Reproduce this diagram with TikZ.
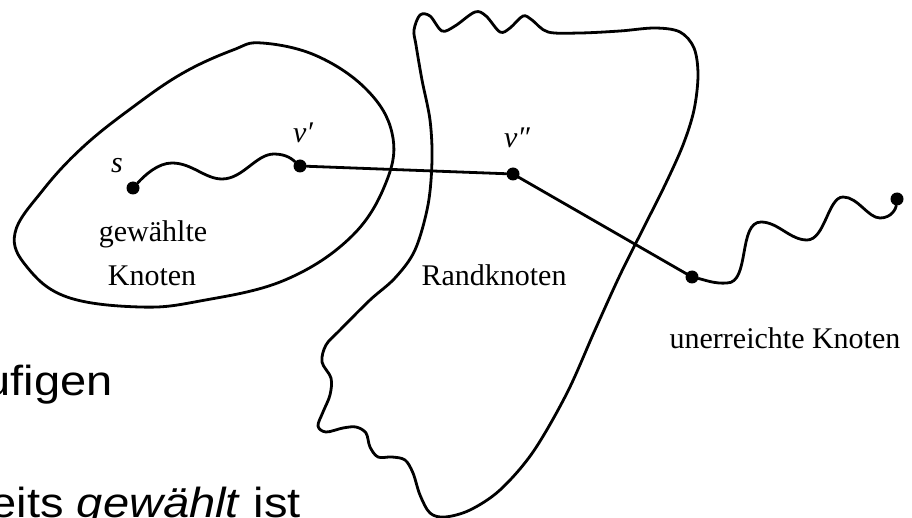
\documentclass[tikz,border=0pt]{standalone}
\usepackage{fontspec}
\usepackage{graphicx}
\setmainfont{Liberation Serif}
\newfontfamily\slidefont{Liberation Sans}
\begin{document}
\begin{tikzpicture}[x=1pt,y=-1pt,
  curve/.style={line width=2.8pt,line join=round,line cap=round},
  dot/.style={circle,fill=black,inner sep=0pt,minimum size=13pt},
  lbl/.style={inner sep=0pt,font=\fontsize{30}{34}\selectfont},
  slide/.style={inner sep=0pt,font=\slidefont\fontsize{42}{48}\selectfont}]
\useasboundingbox (0,0) rectangle (912,518);
\fill[white] (0,0) rectangle (912,518);

% slide text behind the figure
\node[slide,anchor=base east] (st1) at (113,395) {\scalebox{1.12}[1]{ufigen}};
\node[slide,anchor=base east] (st2) at (301,517) {\scalebox{1.12}[1]{eits \textit{gewählt} ist}};

% region of chosen vertices
\draw[curve] plot[smooth cycle,tension=0.65] coordinates {
  (15,233) (43,190) (83,147) (133,107) (183,73) (233,50) (262,43)
  (317,56) (367,90) (392,133) (387,180) (352,236) (285,280)
  (200,301) (140,307) (67,297) (27,267)};

% boundary region
\draw[curve] plot[smooth cycle,tension=0.55] coordinates {
  (414,30) (420,15) (430,16) (442,31) (455,26) (475,12) (486,16)
  (500,32) (510,28) (523,16) (532,20) (548,32) (580,33) (620,31)
  (655,28) (680,32) (694,48) (698,75) (694,110) (683,145) (665,185)
  (645,225) (620,275) (595,330) (567,393) (533,452) (500,490)
  (470,510) (445,517) (430,513) (420,495) (413,473) (405,460)
  (392,457) (378,457) (370,447) (366,433) (356,427) (343,428)
  (326,432) (318,426) (323,412) (330,395) (331,378) (322,362)
  (326,345) (340,330) (370,300) (395,278) (415,250) (428,205)
  (432,160) (430,120) (422,80) (416,45)};

% vertices
\node[dot] (s)   at (133,188) {};
\node[dot] (vp)  at (300,166) {};
\node[dot] (vpp) at (513,174) {};
\node[dot] (u)   at (692,277) {};
\node[dot] (t)   at (897,199) {};

% paths
\draw[curve] (s) .. controls (145,175) and (158,163) .. (172,163)
  .. controls (192,163) and (205,179) .. (222,179)
  .. controls (243,179) and (256,154) .. (274,154)
  .. controls (287,154) and (293,160) .. (vp);
\draw[curve] (vp) -- (vpp);
\draw[curve] (vpp) -- (u);
\draw[curve] (u) .. controls (705,280) and (715,284) .. (727,283)
  .. controls (750,283) and (738,222) .. (761,222)
  .. controls (778,222) and (790,240) .. (807,240)
  .. controls (825,240) and (828,197) .. (843,197)
  .. controls (858,197) and (868,218) .. (880,218)
  .. controls (892,218) and (896,208) .. (t);

% labels
\node[lbl,anchor=base] (ls)   at (117,173) {\itshape s};
\node[lbl,anchor=base] (lvp)  at (303,143) {\itshape v′};
\node[lbl,anchor=base] (lvpp) at (517,148) {\itshape v″};
\node[lbl,anchor=base] (g1) at (153,242) {gewählte};
\node[lbl,anchor=base] (g2) at (152,286) {Knoten};
\node[lbl,anchor=base] (rk) at (494,286) {Randknoten};
\node[lbl,anchor=base] (uk) at (785,348) {unerreichte Knoten};
\end{tikzpicture}
\end{document}
